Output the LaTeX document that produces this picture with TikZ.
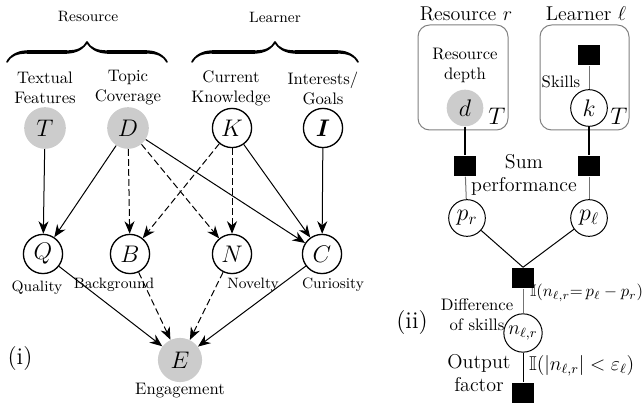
\documentclass[tikz,border=0pt]{standalone}
\usepackage{amsmath}
\usepackage{amssymb}
\usepackage{bm}
\usetikzlibrary{arrows.meta}
\usetikzlibrary{decorations.pathreplacing,calligraphy}

\begin{document}
\begin{tikzpicture}[x=0.6pt, y=-0.6pt,
    var/.style={circle, draw=black, thick, minimum size=23.5pt, inner sep=0pt, font=\Large},
    obs/.style={circle, fill=black!20, minimum size=25pt, inner sep=0pt, font=\Large},
    rvar/.style={circle, draw=black, semithick, minimum size=22pt, inner sep=0pt, font=\Large},
    fac/.style={fill=black, minimum width=13.5pt, minimum height=12.5pt, inner sep=0pt},
    lbl/.style={align=center, inner sep=1pt},
    edge/.style={-{Stealth[length=7.5pt, width=6pt]}, semithick},
    dedge/.style={edge, dash pattern=on 4pt off 2pt},
    link/.style={draw=black, thick},
    glink/.style={draw=black!55, semithick},
    plate/.style={draw=black!50, rounded corners=7pt, semithick},
    cbrace/.style={decorate, decoration={calligraphic brace, amplitude=12pt}, line width=2pt}]
    \useasboundingbox (0,0) rectangle (642,405);

    % (i) left model
    \node[lbl, font=\small] (hres) at (88,17) {Resource};
    \node[lbl, font=\small] (hlrn) at (275,17) {Learner};
    \draw[cbrace] (7,62) -- (167,62);
    \draw[cbrace] (192,62) -- (358,62);

    \node[lbl] (lT) at (45,88) {Textual\\Features};
    \node[lbl] (lD) at (128,88) {Topic\\Coverage};
    \node[lbl] (lK) at (231,88) {Current\\Knowledge};
    \node[lbl] (lI) at (323,88) {Interests/\\Goals};

    \node[obs] (T) at (45,128) {$T$};
    \node[obs] (D) at (128,128) {$D$};
    \node[var] (K) at (232,128) {$K$};
    \node[var] (I) at (323,128) {$\bm{I}$};

    \node[var] (Q) at (43,254) {$Q$};
    \node[var] (B) at (130,254) {$B$};
    \node[var] (N) at (232,254) {$N$};
    \node[var] (C) at (322,254) {$C$};

    \node[lbl, font=\small] (lQ) at (37,288) {Quality};
    \node[lbl, font=\small] (lB) at (114,285) {Background};
    \node[lbl, font=\small] (lN) at (253,285) {Novelty};
    \node[lbl, font=\small] (lC) at (333,285) {Curiosity};

    \node[obs, minimum size=26.5pt] (E) at (180,360) {$E$};
    \node[lbl] (lE) at (180,391) {Engagement};
    \node[lbl, font=\Large] (pi) at (20,359) {(i)};

    \draw[edge] (T) -- (Q);
    \draw[edge] (D) -- (Q);
    \draw[dedge] (D) -- (B);
    \draw[dedge] (D) -- (N);
    \draw[edge] (D) -- (C);
    \draw[dedge] (K) -- (B);
    \draw[dedge] (K) -- (N);
    \draw[edge] (K) -- (C);
    \draw[edge] (I) -- (C);
    \draw[edge] (Q) -- (E);
    \draw[dedge] (B) -- (E);
    \draw[dedge] (N) -- (E);
    \draw[edge] (C) -- (E);

    % (ii) factor graph
    \node[lbl, font=\large] (hr) at (466,14) {Resource $r$};
    \node[lbl, font=\large] (hl) at (586,14) {Learner $\ell$};
    \draw[plate] (418,25) rectangle (508,130);
    \draw[plate] (540,25) rectangle (629,130);

    \node[lbl] (ldepth) at (465,65) {Resource\\depth};
    \node[obs, minimum size=22pt] (d) at (465,108) {$d$};
    \node[lbl, font=\Large] (Tr) at (497,116) {$T$};

    \node[fac] (fk) at (589,55) {};
    \node[lbl] (lskill) at (561,82) {Skills};
    \node[rvar] (k) at (589,108) {$k$};
    \node[lbl, font=\Large] (Tl) at (619,116) {$T$};

    \node[fac] (fr) at (465,166) {};
    \node[fac] (fl) at (589,166) {};
    \node[lbl, font=\large] (lsum) at (524,175) {Sum\\performance};

    \node[rvar] (pr) at (467,218) {$p_r$};
    \node[rvar] (pl) at (589,218) {$p_\ell$};

    \node[fac] (fd) at (523,278) {};
    \node[lbl] (ldiff) at (477,315) {Difference\\of skills};
    \node[lbl, anchor=west] (eqd) at (528,293) {$\mathbb{I}(n_{\ell,r}{=}\,p_\ell-p_r)$};
    \node[rvar, minimum size=23pt, font=\large] (n) at (523,333) {$n_{\ell,r}$};

    \node[lbl, font=\large] (lout) at (479,373) {Output\\factor};
    \node[lbl, anchor=west, font=\large] (eqo) at (527,366) {$\mathbb{I}(|n_{\ell,r}|<\varepsilon_\ell)$};
    \node[fac] (fo) at (523,393) {};
    \node[lbl, font=\Large] (pii) at (412,323) {(ii)};

    \draw[link] (d) -- (fr);
    \draw[glink] (fr) -- (pr);
    \draw[glink] (fk) -- (k);
    \draw[link] (k) -- (fl);
    \draw[glink] (fl) -- (pl);
    \draw[link, semithick] (pr) -- (fd.north);
    \draw[link, semithick] (pl) -- (fd.north);
    \draw[glink] (fd) -- (n);
    \draw[link, semithick] (n) -- (fo);
\end{tikzpicture}
\end{document}
